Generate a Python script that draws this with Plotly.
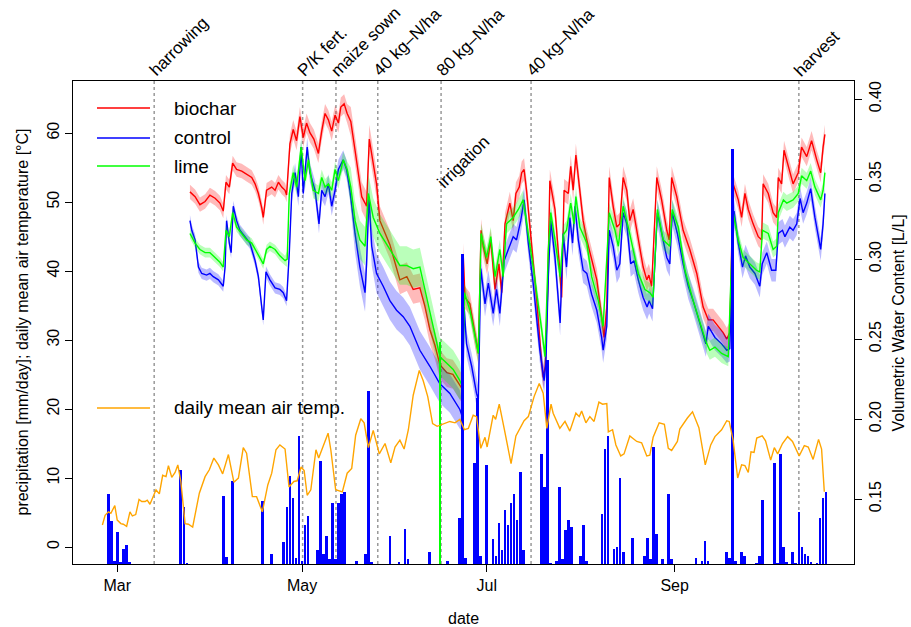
import bisect
import plotly.graph_objects as go

# ---------------- data (x = days after 1 March) ----------------
month_ticks = [0, 61, 122, 184]
month_labels = ["Mar", "May", "Jul", "Sep"]

temp_day = [-4.9, -4.0, -2.9, -2.1, -0.8, 0.0, 1.2, 2.0, 3.1, 4.2, 5.0, 6.1, 7.2, 8.1, 9.2, 9.9, 10.8, 11.9, 12.8, 13.9,
            15.0, 16.1, 16.9, 18.0, 19.1, 20.0, 21.0, 22.4, 23.5, 24.9, 27.1, 29.0, 30.4, 31.9, 33.4, 34.8, 36.7, 38.5, 40.0, 41.6,
            42.7, 44.6, 46.0, 47.9, 49.7, 51.0, 52.4, 53.7, 55.4, 56.7, 58.3, 59.4, 60.7, 61.7, 62.7, 63.9, 65.6, 66.5, 68.0, 69.6,
            70.5, 72.1, 74.3, 75.9, 77.4, 78.7, 80.4, 81.5, 82.9, 84.5, 86.5, 88.4, 90.3, 91.7, 93.3, 94.7, 96.1, 97.7, 99.7, 101.0,
            102.5, 104.1, 105.6, 107.6, 109.8, 111.5, 113.1, 114.6, 115.9, 117.5, 118.6, 120.0, 121.4, 122.1, 124.1, 124.9, 126.1, 127.8, 130.0, 131.6,
            132.9, 134.3, 135.7, 137.6, 139.3, 140.6, 141.8, 143.2, 143.9, 146.1, 147.8, 149.4, 151.4, 152.5, 153.3, 154.7, 156.0, 157.4, 159.0, 160.2,
            161.6, 162.1, 163.5, 164.6, 166.2, 167.3, 169.2, 171.5, 173.1, 174.8, 175.8, 176.9, 178.9, 180.6, 181.9, 183.0, 184.9, 185.7, 188.2, 189.9,
            192.0, 194.1, 195.9, 197.3, 199.5, 201.2, 202.0, 203.3, 204.8, 206.1, 207.2, 208.3, 209.2, 210.2, 211.1, 212.9, 214.0, 215.7, 216.9, 218.0,
            219.6, 221.3, 222.9, 225.1, 226.8, 228.1, 229.7, 231.5, 232.5, 233.4]
temp_c = [3.2, 4.6, 5.1, 4.9, 6.0, 3.9, 3.4, 3.3, 3.0, 5.1, 4.5, 4.7, 6.9, 6.6, 6.6, 6.8, 6.2, 7.3, 8.3, 7.7,
          10.4, 10.2, 11.8, 10.1, 10.8, 11.9, 9.5, 3.4, 3.3, 2.9, 7.8, 10.2, 11.2, 12.9, 11.9, 10.6, 13.4, 9.4, 10.0, 14.4,
          13.6, 7.3, 7.3, 5.1, 9.0, 10.7, 14.1, 14.8, 14.2, 8.7, 9.5, 9.6, 11.6, 11.1, 7.5, 8.3, 14.1, 12.9, 14.7, 16.5,
          14.1, 8.3, 8.0, 10.7, 11.4, 16.2, 18.6, 18.0, 14.4, 16.9, 13.5, 15.0, 12.2, 14.5, 15.5, 14.2, 17.0, 22.0, 25.6, 24.1,
          21.8, 17.9, 17.5, 17.8, 18.2, 18.0, 18.5, 17.0, 17.2, 19.1, 18.9, 14.3, 15.9, 14.5, 19.1, 18.5, 20.7, 17.0, 12.1, 16.1,
          17.2, 18.3, 18.9, 21.8, 23.7, 22.3, 17.2, 20.7, 19.4, 17.2, 18.2, 16.8, 19.4, 18.9, 19.7, 18.0, 18.9, 18.2, 21.0, 20.7,
          20.8, 16.7, 17.0, 14.8, 13.2, 13.5, 16.1, 15.3, 15.1, 13.2, 13.3, 15.9, 18.0, 17.8, 14.3, 14.0, 15.3, 17.1, 18.7, 19.6,
          17.3, 11.9, 14.8, 16.0, 17.0, 18.3, 18.2, 15.5, 10.0, 11.9, 11.8, 10.8, 13.8, 13.7, 15.8, 16.1, 15.4, 12.6, 14.4, 13.5,
          15.0, 16.0, 15.3, 13.2, 14.7, 14.5, 12.7, 15.6, 14.2, 8.0]

precip_day = [-3, -2, -1, 0, 1, 2, 3, 4, 21, 22, 23, 35, 36, 38, 48, 51, 55, 56, 57, 58,
              59, 60, 61, 62, 63, 66, 67, 68, 69, 70, 71, 72, 73, 74, 75, 79, 82, 83, 84, 90,
              93, 95, 96, 103, 109, 113, 114, 115, 118, 119, 120, 122, 124, 125, 126, 127, 128, 129, 130, 131,
              132, 133, 134, 140, 141, 142, 143, 145, 146, 147, 148, 149, 150, 153, 154, 155, 160, 161, 162, 164,
              165, 166, 167, 170, 174, 175, 176, 177, 178, 180, 182, 183, 191, 193, 194, 195, 201, 202, 203, 204,
              206, 207, 211, 212, 213, 217, 218, 219, 220, 221, 223, 224, 225, 226, 227, 228, 229, 231, 232, 233, 234]
precip_mm = [10.1, 6.2, 0.4, 4.7, 0.2, 2.2, 2.7, 0.2, 13.6, 8.2, 0.1, 9.9, 1.0, 12.1, 9.1, 1.5, 3.2, 8.2, 12.7, 9.5,
             0.8, 18.5, 0.5, 5.7, 6.9, 2.1, 15.0, 1.5, 4.1, 0.7, 8.8, 0.7, 8.8, 10.2, 10.5, 0.4, 1.5, 25.1, 0.2, 4.0,
             0.2, 5.1, 0.7, 1.8, 0.4, 6.6, 45.0, 0.9, 14.6, 24.0, 1.2, 14.4, 3.6, 1.1, 6.0, 2.1, 7.8, 5.6, 8.9, 10.2,
             6.4, 13.4, 2.0, 15.9, 11.1, 29.5, 0.1, 0.4, 11.2, 0.7, 4.9, 6.4, 5.3, 1.1, 5.7, 0.5, 7.3, 16.6, 18.5, 2.2,
             2.4, 12.5, 1.8, 3.7, 1.2, 3.7, 0.7, 16.9, 4.3, 0.7, 10.1, 0.7, 0.8, 0.4, 3.4, 0.4, 1.8, 0.8, 60.1, 0.4,
             1.8, 1.2, 0.1, 1.1, 9.3, 14.7, 0.1, 16.0, 2.4, 0.2, 1.7, 0.1, 7.6, 2.5, 1.5, 1.2, 0.2, 0.1, 6.6, 9.6, 10.5]

irrigation_day = [106.7]
irrigation_mm = [32.2]

biochar_day = [24.0, 25.7, 27.3, 29.0, 30.6, 32.3, 33.9, 35.0, 35.9, 37.0, 38.1, 39.4, 41.1, 42.7, 44.4, 45.5, 46.6, 47.7, 48.2, 49.3,
               51.0, 52.1, 53.2, 54.3, 55.4, 55.9, 57.0, 58.1, 59.2, 60.3, 61.4, 62.5, 63.6, 64.9, 66.4, 67.5, 68.6, 69.7, 70.8, 71.9,
               73.0, 73.8, 74.9, 75.9, 77.1, 78.5, 79.6, 80.7, 81.8, 82.3, 83.2, 84.5, 85.6, 86.7, 90.0, 93.3, 95.6, 97.7, 99.9, 101.5,
               103.2, 104.9, 106.5, 108.8, 110.8, 112.5, 113.8, 114.2, 114.8, 116.4, 118.1, 119.2, 120.1, 120.8, 122.1, 123.3, 124.7, 126.0, 126.9, 128.0,
               129.6, 130.7, 131.6, 132.7, 133.5, 134.3, 135.1, 136.8, 138.5, 140.1, 140.6, 141.3, 142.1, 142.8, 144.5, 145.9, 146.7, 147.5, 148.9, 149.7,
               150.5, 151.4, 152.5, 153.8, 155.0, 156.6, 158.3, 159.9, 160.7, 161.6, 162.4, 163.7, 164.9, 165.9, 167.0, 168.2, 169.2, 170.3, 172.0, 173.6,
               174.8, 175.5, 176.4, 178.1, 179.7, 181.4, 182.2, 183.0, 184.7, 186.8, 189.0, 191.3, 193.4, 195.1, 196.7, 198.4, 200.0, 201.2, 202.2, 203.3,
               205.0, 206.1, 207.2, 208.3, 209.9, 211.6, 212.7, 213.2, 214.9, 216.5, 217.7, 218.2, 219.3, 220.1, 221.5, 223.1, 224.8, 225.9, 227.6, 229.2,
               230.9, 232.2, 233.0, 233.6]
biochar_vwc = [0.342, 0.339, 0.334, 0.336, 0.340, 0.338, 0.335, 0.330, 0.348, 0.345, 0.360, 0.356, 0.355, 0.353, 0.351, 0.347, 0.341, 0.332, 0.326, 0.343,
               0.345, 0.343, 0.348, 0.345, 0.343, 0.340, 0.372, 0.381, 0.374, 0.389, 0.376, 0.385, 0.379, 0.375, 0.366, 0.380, 0.391, 0.387, 0.380, 0.390,
               0.385, 0.395, 0.397, 0.391, 0.386, 0.368, 0.354, 0.339, 0.335, 0.333, 0.375, 0.360, 0.347, 0.324, 0.309, 0.287, 0.289, 0.281, 0.282, 0.271,
               0.256, 0.246, 0.234, 0.229, 0.228, 0.223, 0.219, 0.303, 0.276, 0.272, 0.252, 0.241, 0.318, 0.308, 0.297, 0.312, 0.281, 0.297, 0.279, 0.322,
               0.335, 0.324, 0.341, 0.345, 0.354, 0.356, 0.343, 0.310, 0.274, 0.235, 0.226, 0.233, 0.281, 0.349, 0.331, 0.297, 0.276, 0.343, 0.341, 0.358,
               0.343, 0.365, 0.345, 0.324, 0.312, 0.299, 0.287, 0.264, 0.251, 0.270, 0.351, 0.333, 0.320, 0.322, 0.351, 0.343, 0.324, 0.331, 0.312, 0.295,
               0.287, 0.290, 0.283, 0.351, 0.337, 0.318, 0.312, 0.351, 0.339, 0.318, 0.306, 0.291, 0.270, 0.262, 0.262, 0.258, 0.254, 0.250, 0.254, 0.347,
               0.337, 0.326, 0.341, 0.331, 0.322, 0.314, 0.312, 0.347, 0.341, 0.329, 0.326, 0.351, 0.347, 0.368, 0.358, 0.347, 0.354, 0.370, 0.364, 0.374,
               0.362, 0.354, 0.370, 0.378]

control_day = [24.0, 24.6, 25.7, 26.8, 27.9, 29.5, 30.6, 31.7, 33.4, 35.0, 35.6, 36.1, 37.0, 37.6, 38.3, 39.4, 40.5, 42.2, 43.8, 45.5,
               46.6, 47.7, 48.2, 49.1, 50.4, 52.1, 53.7, 54.8, 55.9, 56.8, 57.6, 58.7, 59.8, 60.7, 61.4, 62.7, 63.6, 65.3, 66.6, 67.5,
               68.6, 69.7, 70.8, 71.9, 73.0, 74.6, 75.7, 76.8, 78.5, 80.1, 81.8, 82.3, 83.1, 84.0, 85.6, 87.8, 90.0, 92.2, 94.4, 96.6,
               99.9, 103.2, 106.5, 109.8, 113.1, 114.0, 114.5, 115.3, 117.0, 118.6, 119.2, 120.0, 121.4, 122.5, 124.1, 125.2, 126.3, 127.7, 129.1, 130.7,
               131.8, 133.2, 134.3, 135.7, 137.3, 139.5, 140.9, 141.5, 142.3, 143.1, 144.5, 146.2, 147.2, 148.3, 149.4, 150.3, 151.1, 152.2, 153.8, 155.0,
               156.6, 158.3, 159.9, 160.4, 161.6, 162.4, 163.7, 164.9, 165.9, 167.0, 168.2, 169.5, 170.6, 172.0, 173.6, 174.9, 175.6, 176.7, 178.3, 179.7,
               181.4, 182.4, 183.2, 184.9, 186.8, 188.5, 190.1, 192.3, 194.3, 195.1, 197.3, 199.5, 201.2, 202.2, 203.6, 205.0, 206.4, 207.4, 208.8, 210.5,
               212.1, 212.9, 214.4, 216.0, 217.4, 218.2, 219.6, 220.4, 222.0, 223.1, 224.3, 225.4, 226.4, 227.6, 228.9, 230.3, 232.2, 233.0, 233.6]
control_vwc = [0.324, 0.318, 0.312, 0.295, 0.291, 0.290, 0.291, 0.289, 0.287, 0.283, 0.295, 0.324, 0.310, 0.304, 0.333, 0.324, 0.318, 0.314, 0.310, 0.299,
               0.289, 0.270, 0.262, 0.292, 0.287, 0.282, 0.281, 0.279, 0.274, 0.304, 0.341, 0.354, 0.339, 0.370, 0.341, 0.370, 0.354, 0.343, 0.322, 0.343,
               0.339, 0.347, 0.333, 0.343, 0.356, 0.362, 0.356, 0.343, 0.316, 0.295, 0.279, 0.297, 0.339, 0.308, 0.291, 0.283, 0.274, 0.268, 0.264, 0.258,
               0.243, 0.233, 0.222, 0.216, 0.206, 0.201, 0.270, 0.247, 0.233, 0.216, 0.212, 0.294, 0.272, 0.285, 0.266, 0.281, 0.266, 0.299, 0.306, 0.314,
               0.312, 0.324, 0.337, 0.310, 0.285, 0.243, 0.224, 0.235, 0.289, 0.324, 0.301, 0.260, 0.316, 0.295, 0.326, 0.310, 0.333, 0.312, 0.293, 0.291,
               0.278, 0.268, 0.251, 0.243, 0.258, 0.318, 0.308, 0.293, 0.297, 0.329, 0.322, 0.297, 0.299, 0.287, 0.276, 0.270, 0.274, 0.269, 0.329, 0.316,
               0.301, 0.297, 0.329, 0.316, 0.297, 0.283, 0.274, 0.260, 0.247, 0.258, 0.251, 0.247, 0.243, 0.244, 0.330, 0.310, 0.295, 0.302, 0.295, 0.291,
               0.283, 0.297, 0.304, 0.293, 0.293, 0.316, 0.318, 0.314, 0.320, 0.318, 0.322, 0.338, 0.329, 0.335, 0.344, 0.326, 0.306, 0.322, 0.341]

lime_day = [24.0, 25.7, 27.3, 29.0, 30.6, 32.3, 33.9, 35.0, 35.9, 37.0, 38.1, 39.4, 41.1, 42.7, 44.4, 45.5, 47.1, 48.2, 49.3, 50.4,
            52.1, 53.7, 55.4, 56.1, 56.8, 58.1, 59.2, 60.7, 62.0, 63.1, 64.7, 66.4, 67.5, 68.6, 69.7, 70.8, 71.9, 73.0, 74.6, 75.9,
            77.1, 78.5, 80.1, 81.8, 82.9, 84.5, 86.7, 90.0, 93.3, 95.5, 97.7, 99.9, 101.6, 103.2, 104.9, 106.5, 108.7, 110.9, 113.1, 114.0,
            114.6, 116.4, 119.2, 120.1, 121.9, 123.3, 124.7, 126.3, 127.4, 128.5, 130.7, 132.4, 134.0, 134.9, 137.3, 140.1, 141.2, 142.3, 143.1, 144.5,
            146.2, 147.2, 148.3, 149.7, 150.8, 151.4, 152.7, 155.0, 156.6, 158.8, 160.4, 162.4, 164.3, 165.4, 167.0, 168.7, 169.8, 172.0, 174.2, 175.8,
            176.9, 178.3, 180.2, 182.4, 183.2, 185.2, 187.4, 190.1, 193.4, 194.6, 195.6, 197.3, 199.5, 201.7, 203.3, 205.0, 206.6, 208.8, 211.0, 212.1,
            213.0, 214.9, 216.5, 217.7, 218.2, 219.9, 221.0, 223.1, 224.8, 225.9, 227.6, 228.9, 230.3, 232.2, 233.0, 233.6]
lime_vwc = [0.316, 0.310, 0.306, 0.304, 0.304, 0.301, 0.298, 0.295, 0.318, 0.314, 0.329, 0.320, 0.316, 0.312, 0.310, 0.306, 0.301, 0.297, 0.306, 0.308,
            0.306, 0.302, 0.299, 0.300, 0.341, 0.354, 0.345, 0.370, 0.349, 0.362, 0.343, 0.341, 0.351, 0.345, 0.347, 0.343, 0.356, 0.349, 0.362, 0.356,
            0.345, 0.324, 0.312, 0.308, 0.341, 0.326, 0.316, 0.306, 0.296, 0.296, 0.294, 0.295, 0.281, 0.268, 0.252, 0.239, 0.235, 0.231, 0.224, 0.220,
            0.279, 0.268, 0.241, 0.316, 0.301, 0.314, 0.289, 0.306, 0.289, 0.322, 0.326, 0.331, 0.337, 0.326, 0.295, 0.256, 0.239, 0.306, 0.329, 0.312,
            0.289, 0.315, 0.318, 0.335, 0.322, 0.339, 0.320, 0.310, 0.289, 0.274, 0.258, 0.329, 0.318, 0.308, 0.333, 0.320, 0.310, 0.291, 0.281, 0.279,
            0.276, 0.331, 0.312, 0.308, 0.331, 0.320, 0.293, 0.274, 0.254, 0.247, 0.243, 0.245, 0.241, 0.239, 0.329, 0.312, 0.301, 0.297, 0.293, 0.292,
            0.318, 0.316, 0.306, 0.308, 0.329, 0.337, 0.335, 0.337, 0.341, 0.352, 0.349, 0.355, 0.345, 0.337, 0.343, 0.354]

# spread of the replicates (half width of shaded band), by period
sd_period_start = [0, 56, 77, 114, 203]
biochar_sd = [0.0045, 0.006, 0.009, 0.007, 0.006]
control_sd = [0.0035, 0.006, 0.012, 0.008, 0.007]
lime_sd = [0.003, 0.005, 0.012, 0.006, 0.005]

event_day = [12.2, 61.2, 72.2, 86.0, 106.9, 136.6, 225.0]
event_label = ["harrowing", "P/K fert.", "maize sown", "40 kg\u2013N/ha", "80 kg\u2013N/ha", "40 kg\u2013N/ha", "harvest"]
irrigation_label = "irrigation"

# ---------------- figure ----------------
FONT = "Liberation Sans, Arial, sans-serif"
X_RANGE = [-14.6, 243.2]
L_RANGE = [-2.46, 67.54]
R_RANGE = [0.1094, 0.4113]

fig = go.Figure()


def band(days, vals, table):
    sds = [table[bisect.bisect_right(sd_period_start, d) - 1] for d in days]
    up = [v + s for v, s in zip(vals, sds)]
    lo = [v - s for v, s in zip(vals, sds)]
    return days + days[::-1], up + lo[::-1]


series = [
    (biochar_day, biochar_vwc, biochar_sd, "#FF0000", "rgba(255,0,0,0.27)"),
    (control_day, control_vwc, control_sd, "#0000FF", "rgba(0,0,255,0.27)"),
    (lime_day, lime_vwc, lime_sd, "#00FF00", "rgba(0,255,0,0.27)"),
]
for d, v, sdt, col, fcol in series:
    bx, by = band(d, v, sdt)
    fig.add_trace(go.Scatter(x=bx, y=by, fill="toself", fillcolor=fcol, line=dict(width=0),
                             mode="lines", hoverinfo="skip", showlegend=False, yaxis="y"))
    fig.add_trace(go.Scatter(x=d, y=v, mode="lines", line=dict(color=col, width=1.4),
                             showlegend=False, yaxis="y"))

# precipitation bars drawn up from the bottom of the plot
fig.add_trace(go.Bar(x=precip_day, y=precip_mm, base=L_RANGE[0], width=0.9,
                     marker=dict(color="#0000FF", line=dict(width=0)), showlegend=False, yaxis="y2"))
fig.add_trace(go.Bar(x=irrigation_day, y=irrigation_mm, base=L_RANGE[0], width=0.6,
                     marker=dict(color="#00FF00", line=dict(width=0)), showlegend=False, yaxis="y2"))
fig.add_trace(go.Scatter(x=temp_day, y=temp_c, mode="lines", line=dict(color="#FFA500", width=1.4),
                         showlegend=False, yaxis="y2"))

shapes = []
annotations = []
for d, lab in zip(event_day, event_label):
    shapes.append(dict(type="line", xref="x", yref="paper", x0=d, x1=d, y0=0, y1=1,
                       line=dict(color="#999999", width=1.5, dash="dot"), layer="below"))
    annotations.append(dict(x=d, y=1, xref="x", yref="paper", text=lab, showarrow=False,
                            textangle=-45, xanchor="left", yanchor="bottom", xshift=-11, yshift=-2,
                            font=dict(family=FONT, size=17, color="black")))
annotations.append(dict(x=irrigation_day[0], y=0.764, xref="x", yref="paper", text=irrigation_label,
                        showarrow=False, textangle=-45, xanchor="left", yanchor="bottom", xshift=-10,
                        font=dict(family=FONT, size=17, color="black")))

# legend (drawn manually)
legend_items = [("biochar", "#FF0000", 0.944), ("control", "#0000FF", 0.882), ("lime", "#00FF00", 0.824),
                ("daily mean air temp.", "#FFA500", 0.323)]
for name, col, yy in legend_items:
    shapes.append(dict(type="line", xref="paper", yref="paper", x0=0.0307, x1=0.0986, y0=yy, y1=yy,
                       line=dict(color=col, width=1.4)))
    annotations.append(dict(x=0.1268, y=yy, xref="paper", yref="paper", text=name, showarrow=False,
                            xanchor="left", yanchor="middle", font=dict(family=FONT, size=19, color="black")))

# axis titles
annotations.append(dict(x=0.5, y=-0.112, xref="paper", yref="paper", text="date", showarrow=False,
                        xanchor="center", yanchor="middle", font=dict(family=FONT, size=16, color="black")))
annotations.append(dict(x=-51 / 781, y=0.5, xref="paper", yref="paper",
                        text="precipitation [mm/day]; daily mean air temperature [°C]",
                        showarrow=False, textangle=-90, xanchor="center", yanchor="middle",
                        font=dict(family=FONT, size=16, color="black")))
annotations.append(dict(x=1 + 44 / 781, y=0.5, xref="paper", yref="paper", text="Volumetric Water Content [L/L]",
                        showarrow=False, textangle=-90, xanchor="center", yanchor="middle",
                        font=dict(family=FONT, size=16, color="black")))

axis_common = dict(showgrid=False, zeroline=False, ticks="outside", ticklen=7, tickwidth=1, tickcolor="black",
                   linecolor="black", linewidth=1, tickfont=dict(family=FONT, size=16, color="black"))

fig.update_layout(
    width=911, height=627,
    margin=dict(l=73, r=57, t=81, b=63, pad=0),
    paper_bgcolor="white", plot_bgcolor="white",
    showlegend=False, bargap=0,
    xaxis=dict(range=X_RANGE, tickvals=month_ticks, ticktext=month_labels, showline=True, mirror=True,
               **axis_common),
    yaxis=dict(range=R_RANGE, side="right", tickvals=[0.15, 0.20, 0.25, 0.30, 0.35, 0.40], tickformat=".2f",
               tickangle=-90, showline=True, mirror=True, **axis_common),
    yaxis2=dict(range=L_RANGE, side="left", overlaying="y", tickvals=[0, 10, 20, 30, 40, 50, 60],
                tickangle=-90, showline=False, **axis_common),
    shapes=shapes, annotations=annotations,
    font=dict(family=FONT, size=16, color="black"),
)

fig.write_html("out.html")
